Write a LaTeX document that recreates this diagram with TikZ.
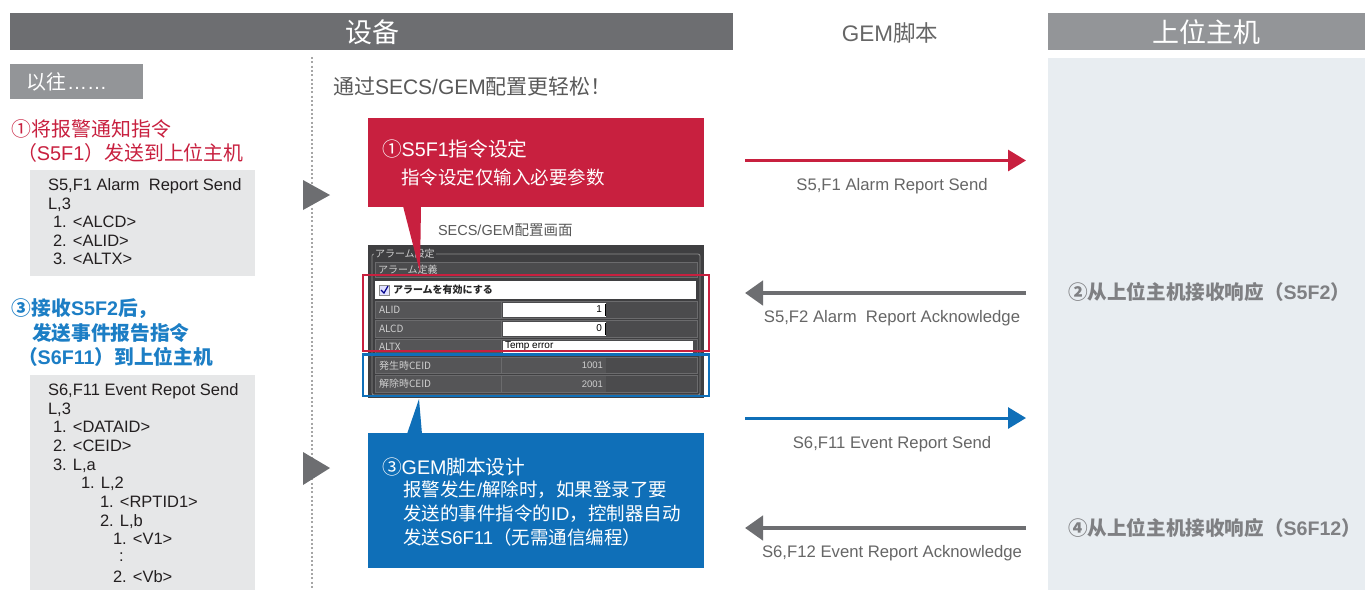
\documentclass[tikz,border=0pt]{standalone}
\usepackage{fontspec}
\setmainfont{Liberation Sans}
\newfontfamily\cjk{Noto Sans CJK SC}
\newfontfamily\jpf{Noto Sans CJK JP}
\newcommand\zh[1]{{\cjk #1}}
\usetikzlibrary{arrows.meta}
\definecolor{barDark}{HTML}{6D6E71}
\definecolor{barLight}{HTML}{939598}
\definecolor{panel}{HTML}{E8EDF1}
\definecolor{codebg}{HTML}{E6E7E8}
\definecolor{accRed}{HTML}{C8203F}
\definecolor{accBlue}{HTML}{0F6FB8}
\definecolor{txtRed}{HTML}{C8203F}
\definecolor{txtBlue}{HTML}{1C7EC5}
\definecolor{txtGray}{HTML}{595959}
\definecolor{lblGray}{HTML}{666666}
\definecolor{rightGray}{HTML}{7F8083}
\definecolor{arrGray}{HTML}{6D6E71}
\definecolor{codeTxt}{HTML}{231F20}
\definecolor{scrBg}{HTML}{3F3F41}
\definecolor{scrCell}{HTML}{555557}
\definecolor{scrVal}{HTML}{4B4B4D}
\definecolor{scrLine}{HTML}{6B6B6D}
\definecolor{scrTxt}{HTML}{CFCFCF}
\tikzset{
  every node/.style={inner sep=0pt, outer sep=0pt},
  codetxt/.style={anchor=base west, text=codeTxt, font=\fontsize{16.5}{18}\selectfont},
  bartxt/.style={anchor=base, text=white, font=\fontsize{27}{30}\cjk},
  redtxt/.style={anchor=base west, text=txtRed, font=\fontsize{19.9}{22}\selectfont},
  bluetxt/.style={anchor=base west, text=txtBlue, font=\fontsize{19.7}{22}\selectfont\bfseries},
  calltxt/.style={anchor=base west, text=white, font=\fontsize{18.5}{21}\selectfont},
  callhead/.style={anchor=base west, text=white, font=\fontsize{19.7}{22}\selectfont},
  arrlbl/.style={anchor=base, text=lblGray, font=\fontsize{16.7}{18}\selectfont},
  righttxt/.style={anchor=base west, text=rightGray, font=\fontsize{19.6}{22}\selectfont\bfseries},
  scrtxt/.style={anchor=west, text=scrTxt, font=\fontsize{10}{11}\jpf},
  sendred/.style={draw=accRed, line width=3pt, -{Triangle[length=18pt,width=21pt]}},
  sendblue/.style={draw=accBlue, line width=3pt, -{Triangle[length=18pt,width=21pt]}},
  ackgray/.style={draw=arrGray, line width=4.5pt, -{Triangle[length=18pt,width=24pt]}},
  framered/.style={draw=accRed, line width=2.5pt},
  frameblue/.style={draw=accBlue, line width=2.5pt},
  playmark/.style={fill=barDark},
}
\begin{document}
\begin{tikzpicture}[x=1pt,y=-1pt]
\useasboundingbox (0,0) rectangle (1365,590);
\fill[white] (0,0) rectangle (1365,590);

% header bars
\fill[barDark] (10,13) rectangle (733,50);
\node[bartxt] (tEquip) at (372,42) {设备};
\node[anchor=base, text=black!60, font=\fontsize{22.5}{24}\selectfont] (tGem) at (890,41.3) {GEM\zh{脚本}};
\fill[barLight] (1048,13) rectangle (1365,50);
\node[bartxt] (tHost) at (1206,42) {上位主机};
\fill[panel] (1048,58) rectangle (1365,590);

% left column
\fill[barLight] (10,64) rectangle (143,99);
\node[anchor=base west, text=white, font=\fontsize{20}{22}\selectfont] (tPast) at (27,89.4) {\zh{以往}……};

\node[redtxt] (r1) at (12,136.3) {\zh{①将报警通知指令}};
\node[redtxt] (r2) at (17,160.3) {\zh{（}S5F1\zh{）发送到上位主机}};

\fill[codebg] (30,170) rectangle (255,276);
\foreach \xx/\yy/\tt [count=\i] in {
  48/185/{S5,F1 Alarm\ \ Report Send},
  48/204/{L,3},
  53/222/{1. <ALCD>},
  53/241/{2. <ALID>},
  53/259/{3. <ALTX>}}
  \node[codetxt] (ca\i) at (\xx,\yy+5.9) {\tt};

\node[bluetxt] (b1) at (12,315.3) {\zh{③接收}S5F2\zh{后，}};
\node[bluetxt] (b2) at (32,340.3) {\zh{发送事件报告指令}};
\node[bluetxt] (b3) at (18,364.3) {\zh{（}S6F11\zh{）到上位主机}};

\fill[codebg] (30,375) rectangle (255,590);
\foreach \xx/\yy/\tt [count=\i] in {
  48/390/{S6,F11 Event Repot Send},
  48/408.5/{L,3},
  53/427/{1. <DATAID>},
  53/446/{2. <CEID>},
  53/464.5/{3. L,a},
  81/483/{1. L,2},
  100/502/{1. <RPTID1>},
  100/520.5/{2. L,b},
  113/539/{1. <V1>},
  119/556/{:},
  113/577/{2. <Vb>}}
  \node[codetxt] (cb\i) at (\xx,\yy+5.9) {\tt};

% divider and play marks
\draw[color=black!35, line width=2pt, dash pattern=on 2pt off 2.3pt] (311.5,57) -- (311.5,590);
\fill[playmark] (303,180) -- (330,195) -- (303,210) -- cycle;
\fill[playmark] (303,452) -- (330,468) -- (303,485) -- cycle;

% middle
\node[anchor=base west, text=txtGray, font=\fontsize{21}{24}\selectfont] (tEasy) at (333,94.8) {\zh{通过}SECS/GEM\zh{配置更轻松！}};
\node[anchor=base west, text=txtGray, font=\fontsize{14.5}{16}\selectfont] (tScr) at (438,235.4) {SECS/GEM\zh{配置画面}};

% screenshot
\fill[scrBg] (368,245) rectangle (704,398);
\draw[black!45, line width=0.8pt, rounded corners=2pt] (372,254) rectangle (700,395);
\node[scrtxt, fill=scrBg, inner xsep=1pt] (sTitle) at (374,254) {アラーム設定};
\fill[scrVal] (375,262) rectangle (697,277);
\draw[scrLine, line width=0.6pt] (375,262) rectangle (697,277);
\node[scrtxt] (sHead) at (378,270) {アラーム定義};
\fill[white] (375,281) rectangle (696,299);
\filldraw[fill=blue!12, draw=black!45, line width=0.6pt] (379,285) rectangle (389,295);
\draw[blue!55!black, line width=1.2pt] (381,290) -- (384,293) -- (388,286);
\node[anchor=west, text=black!85, font=\fontsize{10}{11}\jpf\bfseries] (sCheck) at (393,290) {アラームを有効にする};
\foreach \lab/\ya/\yb [count=\i] in {ALID/301/318, ALCD/320/337, ALTX/339/355, 発生時CEID/357/373.5, 解除時CEID/375.5/392}{
  \filldraw[fill=scrCell, draw=scrLine, line width=0.6pt] (375,\ya) rectangle (501,\yb);
  \filldraw[fill=scrVal, draw=scrLine, line width=0.6pt] (501,\ya) rectangle (697,\yb);
  \node[scrtxt] (sl\i) at (379,{(\ya+\yb)/2}) {\lab};
}
\fill[scrCell] (501.5,357.5) rectangle (606,373);
\fill[scrCell] (501.5,376) rectangle (606,391.5);
\fill[white] (503,302.5) rectangle (606,316.5);
\draw[black, line width=1pt] (605,303.5) -- (605,315.5);
\node[anchor=east, text=black, font=\fontsize{10}{11}\selectfont] (sv1) at (602,309.5) {1};
\fill[white] (503,321.5) rectangle (606,335.5);
\draw[black, line width=1pt] (605,322.5) -- (605,334.5);
\node[anchor=east, text=black, font=\fontsize{10}{11}\selectfont] (sv2) at (602,328.5) {0};
\fill[white] (503,340.5) rectangle (693,352.5);
\node[anchor=west, text=black, font=\fontsize{10}{11}\selectfont] (sv3) at (505,346.5) {Temp error};
\node[anchor=east, text=scrTxt, font=\fontsize{9.5}{11}\selectfont] (sv4) at (603,365) {1001};
\node[anchor=east, text=scrTxt, font=\fontsize{9.5}{11}\selectfont] (sv5) at (603,384) {2001};
\draw[framered] (363,275) rectangle (709,351);
\draw[frameblue] (363,354.5) rectangle (709,396);

% red callout
\node[fill=accRed, minimum width=336pt, minimum height=89pt, anchor=north west] (redbox) at (368,118) {};
\fill[accRed] (403,206) -- (421,206) -- (420,272) -- cycle;
\node[callhead] (rc1) at (382,156) {\zh{①}S5F1\zh{指令设定}};
\node[calltxt] (rc2) at (401,184.8) {\zh{指令设定仅输入必要参数}};

% blue callout
\node[fill=accBlue, minimum width=336pt, minimum height=135pt, anchor=north west] (bluebox) at (368,433) {};
\fill[accBlue] (407,434) -- (422,434) -- (419,399) -- cycle;
\node[callhead] (bc1) at (382,474) {\zh{③}GEM\zh{脚本设计}};
\node[calltxt] (bc2) at (403,496.8) {\zh{报警发生}/\zh{解除时，如果登录了要}};
\node[calltxt] (bc3) at (403,520.8) {\zh{发送的事件指令的}ID\zh{，控制器自动}};
\node[calltxt] (bc4) at (403,544.8) {\zh{发送}S6F11\zh{（无需通信编程）}};

% message arrows
\coordinate (m1a) at (745,160.5); \coordinate (m1b) at (1026,160.5);
\coordinate (m2a) at (1026,293);  \coordinate (m2b) at (745,293);
\coordinate (m3a) at (745,418);   \coordinate (m3b) at (1026,418);
\coordinate (m4a) at (1026,528);  \coordinate (m4b) at (745,528);
\draw[sendred] (m1a) -- (m1b);
\draw[ackgray] (m2a) -- (m2b);
\draw[sendblue] (m3a) -- (m3b);
\draw[ackgray] (m4a) -- (m4b);
\node[arrlbl] (l1) at (892,190) {S5,F1 Alarm Report Send};
\node[arrlbl] (l2) at (892,322) {S5,F2 Alarm\ \ Report Acknowledge};
\node[arrlbl] (l3) at (892,448) {S6,F11 Event Report Send};
\node[arrlbl] (l4) at (892,557) {S6,F12 Event Report Acknowledge};

% host side
\node[righttxt] (h1) at (1068,299.3) {\zh{②从上位主机接收响应（}S5F2\zh{）}};
\node[righttxt] (h2) at (1068,535.3) {\zh{④从上位主机接收响应（}S6F12\zh{）}};
\end{tikzpicture}
\end{document}
